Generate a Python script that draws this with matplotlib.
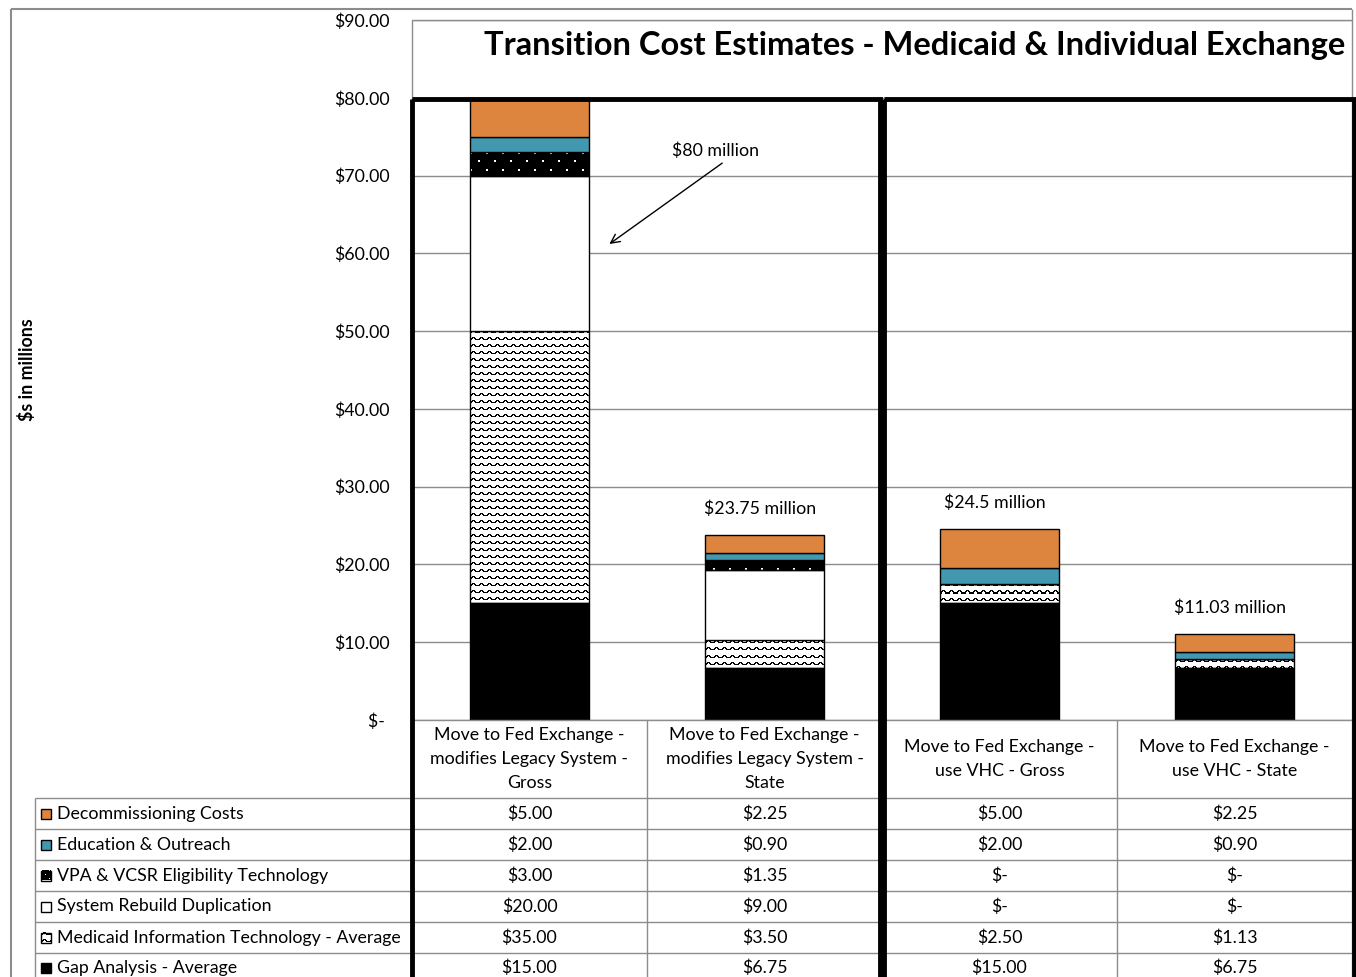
import matplotlib
matplotlib.use('Agg')
import matplotlib.pyplot as plt
from matplotlib.patches import Rectangle
import numpy as np

plt.rcParams['font.family'] = ['Lato', 'DejaVu Sans']

# ---------------- data ----------------
categories = ["Move to Fed Exchange -\nmodifies Legacy System -\nGross",
              "Move to Fed Exchange -\nmodifies Legacy System -\nState",
              "Move to Fed Exchange -\nuse VHC - Gross",
              "Move to Fed Exchange -\nuse VHC - State"]
series_names = ["Gap Analysis - Average",
                "Medicaid Information Technology - Average",
                "System Rebuild Duplication",
                "VPA & VCSR Eligibility Technology",
                "Education & Outreach",
                "Decommissioning Costs"]
gap_analysis = [15.00, 6.75, 15.00, 6.75]
medicaid_it = [35.00, 3.50, 2.50, 1.13]
system_rebuild = [20.00, 9.00, 0.0, 0.0]
vpa_vcsr = [3.00, 1.35, 0.0, 0.0]
education = [2.00, 0.90, 2.00, 0.90]
decommissioning = [5.00, 2.25, 5.00, 2.25]
total_labels = ["$80 million", "$23.75 million", "$24.5 million", "$11.03 million"]
yticks = [0, 10, 20, 30, 40, 50, 60, 70, 80, 90]
title = "Transition Cost Estimates - Medicaid & Individual Exchange"
ylabel = "$s in millions"

series = [gap_analysis, medicaid_it, system_rebuild, vpa_vcsr, education, decommissioning]

# pattern tiles (1 = white, 0 = black)
wave_tile = np.ones((7, 8))
wave_tile[0, 2:5] = 0
wave_tile[1, [1, 2, 4, 5]] = 0
wave_tile[2, [0, 1, 5, 6, 7]] = 0
dot_tile = np.zeros((16, 16))
dot_tile[0:2, 0:2] = 1
dot_tile[8:10, 8:10] = 1

# styles: (facecolor, pattern tile or None)
styles = [("black", None),
          ("white", wave_tile),
          ("white", None),
          ("black", dot_tile),
          ("#4198AF", None),
          ("#DD853F", None)]

W, H = 1356, 977
fig = plt.figure(figsize=(W / 100, H / 100), dpi=100)
GRAY = "#8c8c8c"
FS = 12.8

def fx(px):
    return px / W

def fy(py):
    return 1 - py / H

PX_PER_UNIT_Y = 700 / 90.0
PX_PER_UNIT_X = 940 / 4.0

def pattern_fill(a, x0, x1, y0, y1, tile, wpx, hpx, z):
    nx = max(1, int(round(wpx)))
    ny = max(1, int(round(hpx)))
    reps = (ny // tile.shape[0] + 2, nx // tile.shape[1] + 2)
    arr = np.tile(tile, reps)[:ny, :nx]
    a.imshow(arr, cmap='gray', vmin=0, vmax=1, extent=(x0, x1, y0, y1),
             origin='upper', aspect='auto', interpolation='nearest', zorder=z)

ax = fig.add_axes([fx(412), fy(720), fx(1352) - fx(412), fy(20) - fy(720)])
x = np.arange(len(categories))
bw = 0.51
bottom = np.zeros(len(categories))
for vals, (fc, tile) in zip(series, styles):
    vals = np.array(vals)
    if tile is not None:
        for i in range(len(x)):
            if vals[i] > 0:
                pattern_fill(ax, x[i] - bw / 2, x[i] + bw / 2, bottom[i], bottom[i] + vals[i],
                             tile, bw * PX_PER_UNIT_X, vals[i] * PX_PER_UNIT_Y, 2)
        ax.bar(x, vals, bw, bottom=bottom, fill=False, edgecolor="black",
               linewidth=1.0, zorder=3)
    else:
        ax.bar(x, vals, bw, bottom=bottom, color=fc, edgecolor="black",
               linewidth=1.0, zorder=3)
    bottom += vals
totals = bottom

ax.set_xlim(-0.5, len(categories) - 0.5)
ax.set_ylim(0, 90)
ax.set_yticks(yticks)
ax.set_yticklabels(["$- " if v == 0 else f"${v:.2f}" for v in yticks], fontsize=FS)
ax.set_xticks([])
ax.tick_params(axis='y', length=0, pad=16)
ax.yaxis.grid(True, color=GRAY, linewidth=1.0, zorder=0)
ax.set_axisbelow(True)
for s in ax.spines.values():
    s.set_visible(False)

# total labels
for i in range(1, len(categories)):
    ax.text(x[i] - 0.02, totals[i] + 3.4, total_labels[i], ha='center', va='center', fontsize=FS)
ax.text(0.79, 73.2, total_labels[0], ha='center', va='center', fontsize=FS)
ax.annotate("", xy=(0.34, 61.2), xytext=(0.82, 71.6),
            arrowprops=dict(arrowstyle='->', color='black', lw=1.0,
                            shrinkA=0, shrinkB=0, mutation_scale=16))

# ---------------- overlay: table, borders ----------------
ov = fig.add_axes([0, 0, 1, 1], zorder=5)
ov.set_xlim(0, W)
ov.set_ylim(H, 0)
ov.axis('off')

def hline(y, x0, x1, c=GRAY, lw=1.0):
    ov.plot([x0, x1], [y, y], color=c, lw=lw, solid_capstyle='butt')

def vline(xp, y0, y1, c=GRAY, lw=1.0):
    ov.plot([xp, xp], [y0, y1], color=c, lw=lw, solid_capstyle='butt')

# outer chart border
hline(9, 11, 1352, lw=1.5)
vline(11, 9, 977, lw=1.5)
# plot area border
hline(20, 412, 1352)
vline(412, 20, 720)
vline(1352, 9, 977)
hline(720, 412, 1352)

col_edges = [412, 647, 882, 1117, 1352]
for xe in col_edges[1:-1]:
    vline(xe, 720, 977)
row_lines = [798, 829, 860, 891, 922, 953]
for yl in row_lines:
    hline(yl, 35, 1352)
vline(35, 798, 977)

# category labels
for i, lab in enumerate(categories):
    cx = (col_edges[i] + col_edges[i + 1]) / 2
    ov.text(cx, 759, lab, ha='center', va='center', fontsize=FS, linespacing=1.6)

# table rows (top row = top of stack)
row_centers = [813.5, 844.5, 875.5, 906.5, 937.5, 968]
for r, si in enumerate(range(len(series) - 1, -1, -1)):
    vals = series[si]
    fc, tile = styles[si]
    yc = row_centers[r]
    # legend key
    if tile is not None:
        small = tile if tile.shape[0] < 10 else tile[::2, ::2]
        ov.imshow(np.tile(small, (2, 2))[:10, :10], cmap='gray', vmin=0, vmax=1,
                  extent=(41, 51, yc + 5, yc - 5), origin='upper', aspect='auto',
                  interpolation='nearest', zorder=2)
        ov.add_patch(Rectangle((41, yc - 5), 10, 10, fill=False, edgecolor='black',
                               linewidth=1.0, zorder=3))
    else:
        ov.add_patch(Rectangle((41, yc - 5), 10, 10, facecolor=fc, edgecolor='black',
                               linewidth=1.0, zorder=3))
    ov.text(57, yc, series_names[si], ha='left', va='center', fontsize=FS)
    for i, v in enumerate(vals):
        cx = (col_edges[i] + col_edges[i + 1]) / 2
        txt = "$-" if v == 0 else f"${v:.2f}"
        ov.text(cx, yc, txt, ha='center', va='center', fontsize=FS)

ov.set_xlim(0, W)
ov.set_ylim(H, 0)

# thick black group boxes
ov.add_patch(Rectangle((412, 99), 468, 900, fill=False, edgecolor='black', linewidth=3.5, zorder=6))
ov.add_patch(Rectangle((884, 99), 470, 900, fill=False, edgecolor='black', linewidth=3.5, zorder=6))

# title and y label
fig.text(fx(915), fy(45), title, ha='center', va='center', fontsize=23.5, fontweight='bold')
fig.text(fx(27), fy(370), ylabel, ha='center', va='center', fontsize=FS, fontweight='bold', rotation=90)

fig.savefig("out.png", dpi=100)
